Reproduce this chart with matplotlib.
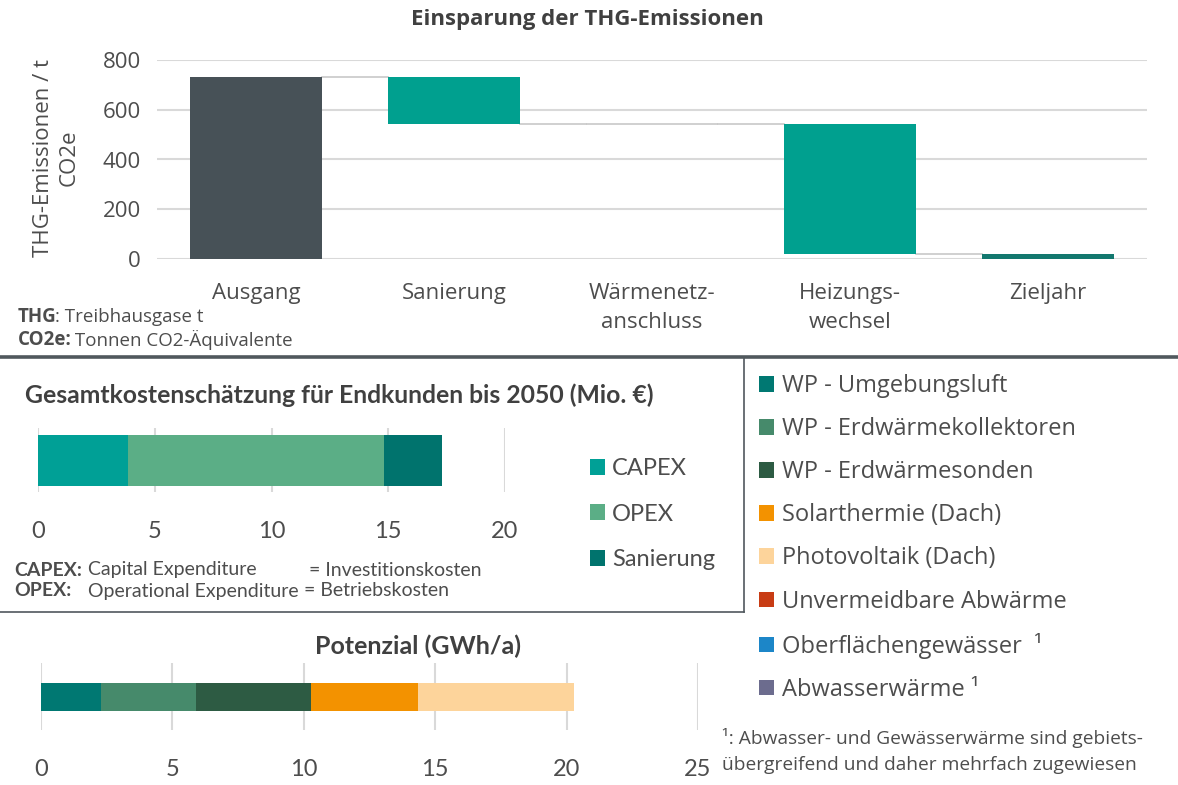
import matplotlib

matplotlib.use('Agg')
import matplotlib.pyplot as plt
from matplotlib.lines import Line2D

W, H = 1178, 785
TXT = '#4d4d4d'
HEAD = '#404040'
GRID = '#d9d9d9'
SANS = ['Open Sans', 'DejaVu Sans']
CALI = ['Lato', 'DejaVu Sans']

# THG-Emissionen (Wasserfall)
thg_cats = ['Ausgang', 'Sanierung', 'Wärmenetz-\nanschluss', 'Heizungs-\nwechsel', 'Zieljahr']
thg_start = 732
thg_steps = [-189, 0, -523]

# Gesamtkosten (Mio. €)
cost_labels = ['CAPEX', 'OPEX', 'Sanierung']
cost_values = [3.85, 10.95, 2.5]
cost_colors = ['#00a096', '#5bae86', '#00736d']

# Potenzial (GWh/a)
pot_labels = ['WP - Umgebungsluft', 'WP - Erdwärmekollektoren', 'WP - Erdwärmesonden',
              'Solarthermie (Dach)', 'Photovoltaik (Dach)', 'Unvermeidbare Abwärme',
              'Oberflächengewässer  ¹', 'Abwasserwärme ¹']
pot_values = [2.27, 3.63, 4.36, 4.10, 5.91, 0, 0, 0]
pot_colors = ['#007872', '#468a6b', '#2d5b43', '#f39200', '#fdd49b',
              '#c83c14', '#1c86c8', '#6c6c8e']


def box(x0, y0, x1, y1):
    """Pixelrechteck (oben links = 0,0) -> Figure-Koordinaten."""
    return [x0 / W, 1 - y1 / H, (x1 - x0) / W, (y1 - y0) / H]


def fx(x):
    return x / W


def fy(y):
    return 1 - y / H


def rich(fig, x, y, parts, size, family):
    """Text aus fett/normal-Stücken nebeneinander setzen (x in Pixel)."""
    r = fig.canvas.get_renderer()
    for s, w, xpos in parts:
        if xpos is not None:
            x = xpos
        t = fig.text(fx(x), fy(y), s, fontsize=size, weight=w, color=TXT,
                     family=family, va='center', ha='left')
        x += t.get_window_extent(r).width - 2


fig = plt.figure(figsize=(W / 100, H / 100), dpi=100)

# ---------- 1) Wasserfall ----------
ax = fig.add_axes(box(157, 60, 1147, 259))
width = 0.667
level = thg_start
ax.bar(0, thg_start, width=width, color='#475157', zorder=3)
tops = [thg_start]
for i, d in enumerate(thg_steps, start=1):
    bottom = level + min(d, 0)
    ax.bar(i, abs(d), bottom=bottom, width=width, color='#00a08f', zorder=3,
           edgecolor='#c8c8c8' if d == 0 else 'none', linewidth=1.2)
    level += d
    tops.append(level)
n = len(thg_cats)
ax.bar(n - 1, level, width=width, color='#13786f', zorder=3)
tops.append(level)
# Verbindungslinien zwischen den Balken
for i in range(n - 1):
    ax.plot([i + width / 2, i + 1 - width / 2], [tops[i]] * 2,
            color='#c8c8c8', lw=1.2, zorder=2)

ax.set_xlim(-0.5, n - 0.5)
ax.set_ylim(0, 800)
ax.set_yticks(range(0, 801, 200))
ax.set_xticks(range(n))
ax.set_xticklabels(thg_cats, linespacing=1.55)
ax.grid(axis='y', color=GRID, lw=1.5, zorder=0)
ax.set_axisbelow(True)
for sp in ax.spines.values():
    sp.set_visible(False)
ax.tick_params(length=0, labelsize=16, labelcolor=TXT)
ax.tick_params(axis='y', pad=11.5)
ax.tick_params(axis='x', pad=17)
for lab in ax.get_xticklabels() + ax.get_yticklabels():
    lab.set_family(SANS)
fig.text(fx(56), fy(158), 'THG-Emissionen / t\nCO2e', rotation=90, fontsize=16,
         family=SANS, color=TXT, ha='center', va='center', linespacing=1.3,
         multialignment='center')
fig.text(fx(587), fy(20), 'Einsparung der THG-Emissionen', fontsize=16,
         weight='bold', family=SANS, color=HEAD, ha='center', va='center')
rich(fig, 18, 317, [('THG', 'bold', None), (': Treibhausgase t', 'normal', None)], 13.5, SANS)
rich(fig, 18, 340, [('CO2e:', 'bold', None), (' Tonnen CO2-Äquivalente', 'normal', None)], 13.5, SANS)

# Trennlinien
fig.add_artist(Line2D([0, 1], [fy(357)] * 2, transform=fig.transFigure, color='#50585d', lw=2.6))
fig.add_artist(Line2D([fx(744)] * 2, [fy(357), fy(612)], transform=fig.transFigure, color='#50585d', lw=1.2))
fig.add_artist(Line2D([0, fx(744)], [fy(612)] * 2, transform=fig.transFigure, color='#50585d', lw=1.2))

# ---------- 2) Gesamtkosten ----------
ax2 = fig.add_axes(box(38, 428, 505, 492))
left = 0
cost_bars = []
for v, c in zip(cost_values, cost_colors):
    cost_bars.append(ax2.barh(0, v, left=left, height=51 / 64, color=c, zorder=3))
    left += v
ax2.set_xlim(0, 20)
ax2.set_ylim(-0.5, 0.5)
ax2.set_xticks(range(0, 21, 5))
ax2.set_yticks([])
ax2.grid(axis='x', color=GRID, lw=1.5, zorder=0)
for sp in ax2.spines.values():
    sp.set_visible(False)
ax2.tick_params(length=0, labelsize=17, labelcolor=TXT, pad=21)
for lab in ax2.get_xticklabels():
    lab.set_family(CALI)
fig.text(fx(25), fy(395), 'Gesamtkostenschätzung für Endkunden bis 2050 (Mio. €)',
         fontsize=17.8, weight='bold', family=CALI, color=HEAD, va='center')
fig.legend(cost_bars, cost_labels, loc='upper left', bbox_to_anchor=(fx(590), fy(458)),
           frameon=False, borderpad=0, borderaxespad=0, handlelength=0.64,
           handleheight=0.64, handletextpad=0.3, labelspacing=1.04,
           prop={'family': CALI, 'size': 17}, labelcolor=TXT)
rich(fig, 14, 570, [('CAPEX:', 'bold', None), ('Capital Expenditure', 'normal', 88),
                    ('= Investitionskosten', 'normal', 309)], 14, CALI)
rich(fig, 14, 591, [('OPEX:', 'bold', None), ('Operational Expenditure', 'normal', 88),
                    ('= Betriebskosten', 'normal', 304)], 14, CALI)

# ---------- 3) Potenzial ----------
ax3 = fig.add_axes(box(41, 663, 698, 730))
left = 0
pot_bars = []
for v, c in zip(pot_values, pot_colors):
    pot_bars.append(ax3.barh(0, v, left=left, height=28 / 67, color=c, zorder=3))
    left += v
ax3.set_xlim(0, 25)
ax3.set_ylim(-0.5, 0.5)
ax3.set_xticks(range(0, 26, 5))
ax3.set_yticks([])
ax3.grid(axis='x', color=GRID, lw=1.5, zorder=0)
for sp in ax3.spines.values():
    sp.set_visible(False)
ax3.tick_params(length=0, labelsize=17, labelcolor=TXT, pad=21)
for lab in ax3.get_xticklabels():
    lab.set_family(CALI)
fig.text(fx(418), fy(646), 'Potenzial (GWh/a)', fontsize=18, weight='bold',
         family=CALI, color=HEAD, ha='center', va='center')

fig.legend(pot_bars, pot_labels, loc='upper left', bbox_to_anchor=(fx(759), fy(374)),
           frameon=False, borderpad=0, borderaxespad=0, handlelength=0.64,
           handleheight=0.64, handletextpad=0.34, labelspacing=0.81,
           prop={'family': SANS, 'size': 17}, labelcolor=TXT)
fig.text(fx(722), fy(751), '¹: Abwasser- und Gewässerwärme sind gebiets-\n'
         'übergreifend und daher mehrfach zugewiesen', fontsize=13.8, family=SANS,
         color=TXT, va='center', ha='left', linespacing=1.5)

fig.savefig('out.png', dpi=100)
